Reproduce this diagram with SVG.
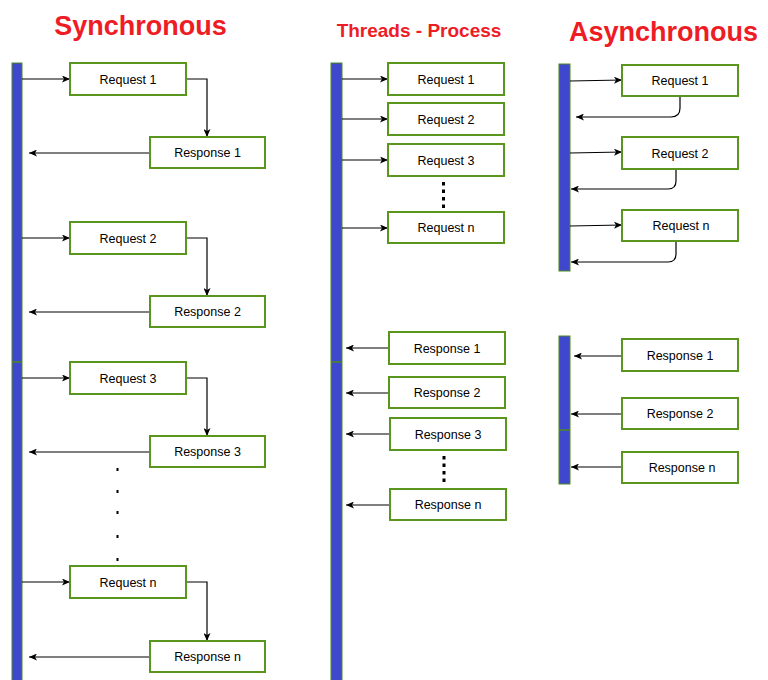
<svg xmlns="http://www.w3.org/2000/svg" width="768" height="680" viewBox="0 0 768 680">
<defs>
<style>
.title{font-family:"Liberation Sans",Arial,sans-serif;font-weight:bold;fill:#ee1c25;text-anchor:middle}
.box{fill:#ffffff;stroke:#5a961e;stroke-width:2}
.lbl{font-family:"Liberation Sans",Arial,sans-serif;font-size:12.5px;fill:#000;text-anchor:middle}
.bar{fill:#3f48cc;stroke:#4f8a1e;stroke-width:1}
.div{stroke:#4f8a1e;stroke-width:1.5}
.c{fill:none;stroke:#000;stroke-width:1.2;marker-end:url(#ah)}
.dot{fill:#000}
</style>
<marker id="ah" viewBox="0 0 8 7" refX="8" refY="3.5" markerWidth="8" markerHeight="7" markerUnits="userSpaceOnUse" orient="auto">
<path d="M0,0 L8,3.5 L0,7 L2,3.5 z" fill="#000"/>
</marker>
</defs>
<rect width="768" height="680" fill="#ffffff"/>

<g id="titles">
<text class="title" x="140.5" y="35" font-size="27">Synchronous</text>
<text class="title" x="419" y="37.3" font-size="19">Threads - Process</text>
<text class="title" x="663.5" y="41" font-size="27">Asynchronous</text>
</g>

<g id="bars">
<rect class="bar" x="12" y="63" width="10" height="620"/>
<line class="div" x1="12" y1="362" x2="22" y2="362"/>
<rect class="bar" x="331" y="63" width="11" height="620"/>
<line class="div" x1="331" y1="362" x2="342" y2="362"/>
<rect class="bar" x="559" y="64" width="11" height="207"/>
<rect class="bar" x="559" y="336" width="11" height="148"/>
<line class="div" x1="559" y1="430" x2="570" y2="430"/>
</g>

<g id="connectors">
<!-- synchronous -->
<path class="c" d="M22,79 H70"/>
<path class="c" d="M186,79 H207 V137"/>
<path class="c" d="M150,153 H29"/>
<path class="c" d="M22,238 H70"/>
<path class="c" d="M186,238 H207 V296"/>
<path class="c" d="M150,312 H29"/>
<path class="c" d="M22,378 H70"/>
<path class="c" d="M186,378 H207 V436"/>
<path class="c" d="M150,452 H29"/>
<path class="c" d="M22,582 H70"/>
<path class="c" d="M186,582 H207 V641"/>
<path class="c" d="M150,657 H29"/>
<!-- threads -->
<path class="c" d="M342,79 H388"/>
<path class="c" d="M342,119 H388"/>
<path class="c" d="M342,160 H388"/>
<path class="c" d="M342,228 H388"/>
<path class="c" d="M389,348 H346"/>
<path class="c" d="M389,393 H346"/>
<path class="c" d="M390,434 H346"/>
<path class="c" d="M390,505 H346"/>
<!-- asynchronous -->
<path class="c" d="M570,81 L622,80"/>
<path class="c" d="M680,97 V108 Q680,117 671,117 H576"/>
<path class="c" d="M570,153 L622,152"/>
<path class="c" d="M676,169 V181 Q676,189 668,189 H571"/>
<path class="c" d="M570,226 L622,225"/>
<path class="c" d="M676,242 V254 Q676,262 668,262 H571"/>
<path class="c" d="M622,356 H574"/>
<path class="c" d="M622,414 H571"/>
<path class="c" d="M622,467 H571"/>
</g>

<g id="sync-request-1"><rect class="box" x="70" y="63" width="116" height="32"/><text class="lbl" x="128" y="83.5">Request 1</text></g>
<g id="sync-response-1"><rect class="box" x="150" y="137" width="115" height="31"/><text class="lbl" x="207.5" y="157">Response 1</text></g>
<g id="sync-request-2"><rect class="box" x="70" y="222" width="116" height="32"/><text class="lbl" x="128" y="242.5">Request 2</text></g>
<g id="sync-response-2"><rect class="box" x="150" y="296" width="115" height="31"/><text class="lbl" x="207.5" y="316">Response 2</text></g>
<g id="sync-request-3"><rect class="box" x="70" y="362" width="116" height="32"/><text class="lbl" x="128" y="382.5">Request 3</text></g>
<g id="sync-response-3"><rect class="box" x="150" y="436" width="115" height="31"/><text class="lbl" x="207.5" y="456">Response 3</text></g>
<g id="sync-request-n"><rect class="box" x="70" y="566" width="116" height="32"/><text class="lbl" x="128" y="586.5">Request n</text></g>
<g id="sync-response-n"><rect class="box" x="150" y="641" width="115" height="31"/><text class="lbl" x="207.5" y="661">Response n</text></g>
<g id="sync-dots">
<rect class="dot" x="116.5" y="468" width="2" height="3"/>
<rect class="dot" x="116.5" y="490" width="2" height="3"/>
<rect class="dot" x="116.5" y="511" width="2" height="3"/>
<rect class="dot" x="116.5" y="535" width="2" height="3"/>
<rect class="dot" x="116.5" y="558" width="2" height="3"/>
</g>

<g id="thr-request-1"><rect class="box" x="388" y="63" width="116" height="32"/><text class="lbl" x="446" y="83.5">Request 1</text></g>
<g id="thr-request-2"><rect class="box" x="388" y="103" width="116" height="32"/><text class="lbl" x="446" y="123.5">Request 2</text></g>
<g id="thr-request-3"><rect class="box" x="388" y="144" width="116" height="32"/><text class="lbl" x="446" y="164.5">Request 3</text></g>
<g id="thr-request-n"><rect class="box" x="388" y="212" width="116" height="31"/><text class="lbl" x="446" y="232">Request n</text></g>
<g id="thr-dots-1"><line x1="443.5" y1="182" x2="443.5" y2="208" stroke="#000" stroke-width="3" stroke-dasharray="3.5 4"/></g>
<g id="thr-response-1"><rect class="box" x="389" y="332" width="116" height="32"/><text class="lbl" x="447" y="352.5">Response 1</text></g>
<g id="thr-response-2"><rect class="box" x="389" y="377" width="116" height="31"/><text class="lbl" x="447" y="397">Response 2</text></g>
<g id="thr-response-3"><rect class="box" x="390" y="418" width="116" height="32"/><text class="lbl" x="448" y="438.5">Response 3</text></g>
<g id="thr-response-n"><rect class="box" x="390" y="489" width="116" height="31"/><text class="lbl" x="448" y="509">Response n</text></g>
<g id="thr-dots-2"><line x1="444" y1="456" x2="444" y2="484" stroke="#000" stroke-width="3" stroke-dasharray="3.5 4"/></g>

<g id="async-request-1"><rect class="box" x="622" y="65" width="116" height="31"/><text class="lbl" x="680" y="85">Request 1</text></g>
<g id="async-request-2"><rect class="box" x="622" y="137" width="116" height="32"/><text class="lbl" x="680" y="157.5">Request 2</text></g>
<g id="async-request-n"><rect class="box" x="622" y="210" width="116" height="31"/><text class="lbl" x="681" y="230">Request n</text></g>
<g id="async-response-1"><rect class="box" x="622" y="339" width="116" height="32"/><text class="lbl" x="680" y="359.5">Response 1</text></g>
<g id="async-response-2"><rect class="box" x="622" y="398" width="116" height="31"/><text class="lbl" x="680" y="418">Response 2</text></g>
<g id="async-response-n"><rect class="box" x="622" y="452" width="116" height="31"/><text class="lbl" x="682" y="472">Response n</text></g>
</svg>
